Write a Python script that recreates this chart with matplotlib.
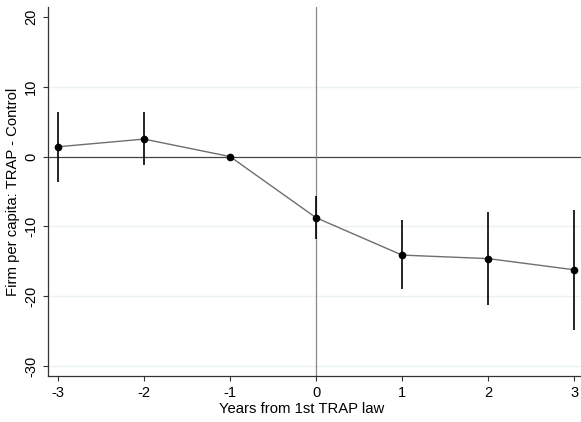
import matplotlib
matplotlib.use("Agg")
import matplotlib.pyplot as plt

years = [-3, -2, -1, 0, 1, 2, 3]
coef = [1.4, 2.5, 0.0, -8.75, -14.1, -14.6, -16.2]
ci_low = [-3.6, -1.25, 0.0, -11.85, -19.0, -21.2, -24.8]
ci_high = [6.4, 6.4, 0.0, -5.65, -9.1, -7.9, -7.6]
yticks = [-30, -20, -10, 0, 10, 20]
gridlines = [-30, -20, -10, 10]

plt.rcParams['font.family'] = ['Liberation Sans', 'DejaVu Sans']
fig = plt.figure(figsize=(5.81, 4.22), dpi=100)
ax = fig.add_axes([48/581, 1-376/422, 1-48/581, (376-7)/422])

for t in gridlines:
    ax.axhline(t, color='#eaf2f3', lw=1, zorder=0)
ax.axhline(0, color='#444444', lw=0.9, zorder=1)
ax.axvline(0, color='#888888', lw=0.9, zorder=1)

ax.vlines(years, ci_low, ci_high, color='black', lw=1.2, zorder=2)
ax.plot(years, coef, color='#6e6e6e', lw=1.0, zorder=2)
ax.plot(years, coef, 'o', color='black', ms=4.5, zorder=3)

ax.set_xlim(-3.116, 3.08)
ax.set_ylim(-31.4, 21.4)
ax.set_xticks(years)
ax.set_xticklabels([str(y) for y in years])
ax.set_yticks(yticks)
ax.set_yticklabels([str(y) for y in yticks], rotation=90, va='center')
ax.tick_params(labelsize=10.5, length=3.5, width=0.8, color='#333333', pad=3.5)
ax.spines['top'].set_visible(False)
ax.spines['right'].set_visible(False)
for s in ['left', 'bottom']:
    ax.spines[s].set_color('#333333')
    ax.spines[s].set_linewidth(0.9)
ax.set_xlabel('Years from 1st TRAP law', fontsize=10.7)
ax.xaxis.set_label_coords(0.475, -33/369, transform=ax.transAxes)
ax.xaxis.label.set_va('center')
ax.set_ylabel('Firm per capita: TRAP - Control', fontsize=10.7, labelpad=3)

fig.savefig('out.png', dpi=100)
